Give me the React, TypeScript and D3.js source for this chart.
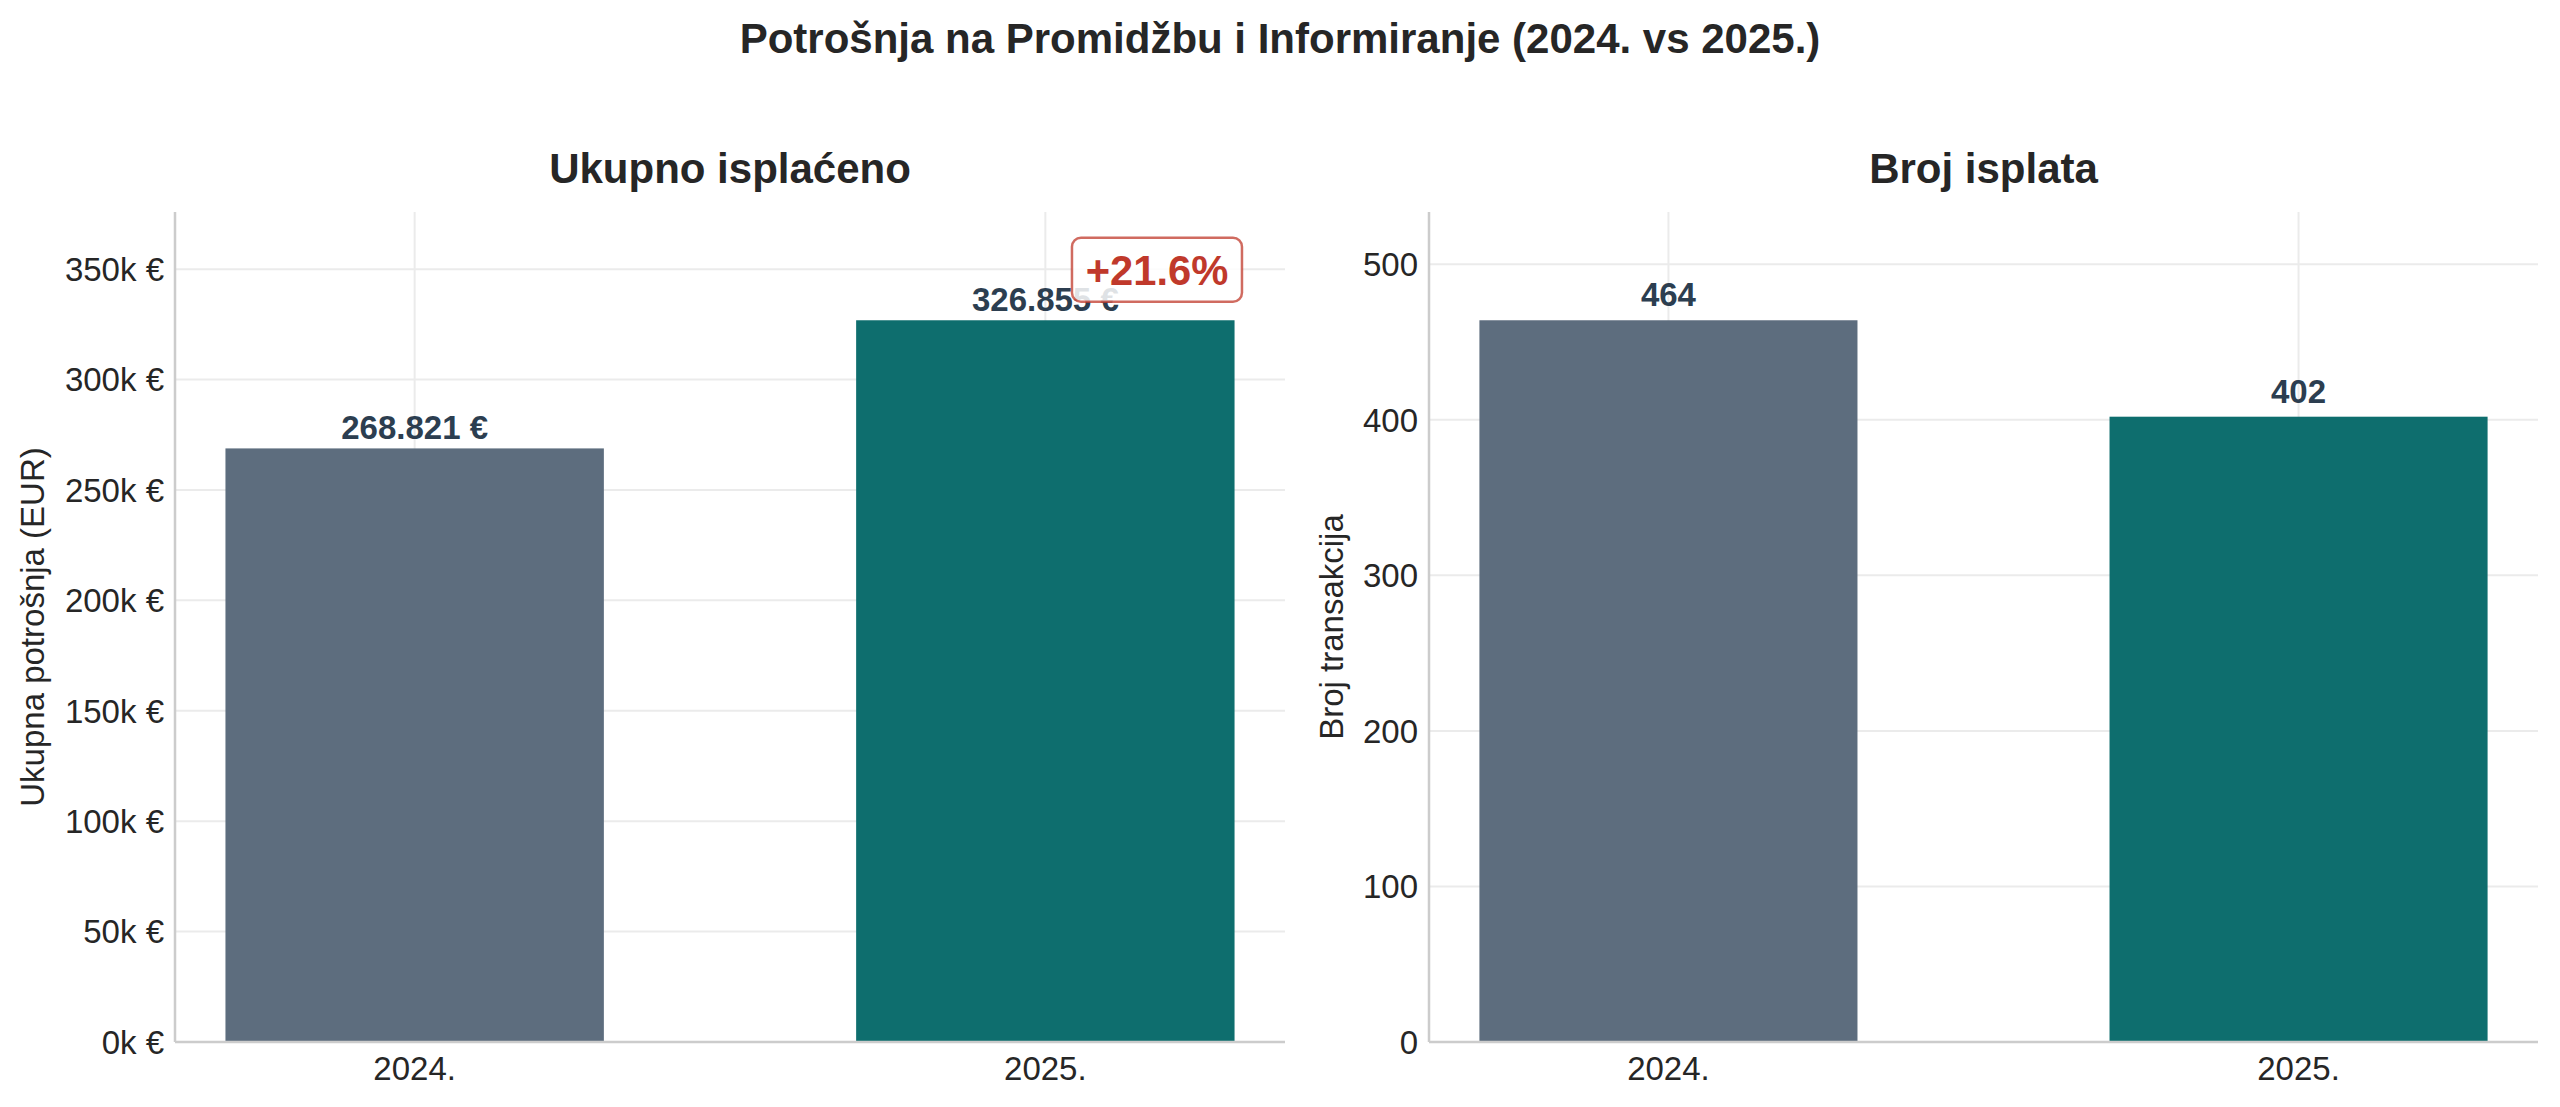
import React from "react";
import * as d3 from "d3";

const years = ["2024.", "2025."];
const totalSpend = [268821, 326855];
const paymentCount = [464, 402];
const spendTicks = [0, 50000, 100000, 150000, 200000, 250000, 300000, 350000];
const countTicks = [0, 100, 200, 300, 400, 500];
const barColors = ["#5d6d7e", "#0e6e6e"];

const W = 2560;
const H = 1107;
const FONT = "'Liberation Sans', Arial, Helvetica, sans-serif";
const TOP = 212;
const BOTTOM = 1042;

const loc = d3.formatLocale({ decimal: ",", thousands: ".", grouping: [3], currency: ["", " €"] });
const fmtThousands = loc.format(",d");

type PanelProps = {
  x0: number;
  x1: number;
  title: string;
  ylabel: string;
  ylabelX: number;
  values: number[];
  ticks: number[];
  tickFmt: (v: number) => string;
  labelFmt: (v: number) => string;
  labelOffset: number;
  annotation?: boolean;
};

function Panel(p: PanelProps) {
  const x = d3.scaleLinear().domain([-0.38, 1.38]).range([p.x0, p.x1]);
  const ymax = (d3.max(p.values) as number) * 1.15;
  const y = d3.scaleLinear().domain([0, ymax]).range([BOTTOM, TOP]);
  const bw = x(0.6) - x(0);
  const cx = (p.x0 + p.x1) / 2;
  const pct = (p.values[1] / p.values[0] - 1) * 100;
  return (
    <g>
      {/* grid */}
      {p.ticks.map((t) => (
        <line key={"h" + t} x1={p.x0} x2={p.x1} y1={y(t)} y2={y(t)} stroke="#ebebeb" strokeWidth={2} />
      ))}
      {years.map((_, i) => (
        <line key={"v" + i} x1={x(i)} x2={x(i)} y1={TOP} y2={BOTTOM} stroke="#ebebeb" strokeWidth={2} />
      ))}
      {/* bars */}
      {p.values.map((v, i) => (
        <rect key={"b" + i} x={x(i) - bw / 2} y={y(v)} width={bw} height={BOTTOM - y(v)} fill={barColors[i]} />
      ))}
      {/* spines */}
      <line x1={p.x0} x2={p.x0} y1={TOP} y2={BOTTOM} stroke="#cccccc" strokeWidth={2.5} />
      <line x1={p.x0} x2={p.x1} y1={BOTTOM} y2={BOTTOM} stroke="#cccccc" strokeWidth={2.5} />
      {/* y tick labels */}
      {p.ticks.map((t) => (
        <text key={"yt" + t} x={p.x0 - 11} y={y(t)} dy="0.36em" textAnchor="end" fontSize={33} fill="#262626" fontFamily={FONT}>
          {p.tickFmt(t)}
        </text>
      ))}
      {/* x tick labels */}
      {years.map((yr, i) => (
        <text key={"xt" + i} x={x(i)} y={1080} textAnchor="middle" fontSize={33} fill="#262626" fontFamily={FONT}>
          {yr}
        </text>
      ))}
      {/* bar labels */}
      {p.values.map((v, i) => (
        <text key={"bl" + i} x={x(i)} y={y(v) - p.labelOffset} textAnchor="middle" fontSize={33} fontWeight="bold" fill="#2c3e50" fontFamily={FONT}>
          {p.labelFmt(v)}
        </text>
      ))}
      {/* y label */}
      <text
        transform={`translate(${p.ylabelX},${(TOP + BOTTOM) / 2}) rotate(-90)`}
        textAnchor="middle"
        fontSize={33}
        fill="#262626"
        fontFamily={FONT}
      >
        {p.ylabel}
      </text>
      {/* title */}
      <text x={cx} y={183} textAnchor="middle" fontSize={42} fontWeight="bold" fill="#262626" fontFamily={FONT}>
        {p.title}
      </text>
      {p.annotation && (
        <g>
          <rect
            x={x(1.177) - 85}
            y={y(p.values[1] * 1.07) - 32}
            width={170}
            height={64}
            rx={9}
            fill="white"
            fillOpacity={0.85}
            stroke="#c0392b"
            strokeOpacity={0.75}
            strokeWidth={2.5}
          />
          <text
            x={x(1.177)}
            y={y(p.values[1] * 1.07)}
            dy="0.36em"
            textAnchor="middle"
            fontSize={41.7}
            fontWeight="bold"
            fill="#c0392b"
            fontFamily={FONT}
          >
            {(pct >= 0 ? "+" : "") + pct.toFixed(1) + "%"}
          </text>
        </g>
      )}
    </g>
  );
}

export default function App() {
  return (
    <svg width={W} height={H} style={{ position: "absolute", left: 0, top: 0, background: "white" }}>
      <rect x={0} y={0} width={W} height={H} fill="white" />
      <text x={1280} y={53} textAnchor="middle" fontSize={42} fontWeight="bold" fill="#262626" fontFamily={FONT}>
        Potrošnja na Promidžbu i Informiranje (2024. vs 2025.)
      </text>
      <Panel
        x0={175}
        x1={1285}
        title="Ukupno isplaćeno"
        ylabel="Ukupna potrošnja (EUR)"
        ylabelX={44}
        values={totalSpend}
        ticks={spendTicks}
        tickFmt={(v) => `${v / 1000}k €`}
        labelFmt={(v) => `${fmtThousands(v)} €`}
        labelOffset={9}
        annotation
      />
      <Panel
        x0={1429}
        x1={2538}
        title="Broj isplata"
        ylabel="Broj transakcija"
        ylabelX={1343}
        values={paymentCount}
        ticks={countTicks}
        tickFmt={(v) => `${v}`}
        labelFmt={(v) => `${v}`}
        labelOffset={14}
      />
    </svg>
  );
}
